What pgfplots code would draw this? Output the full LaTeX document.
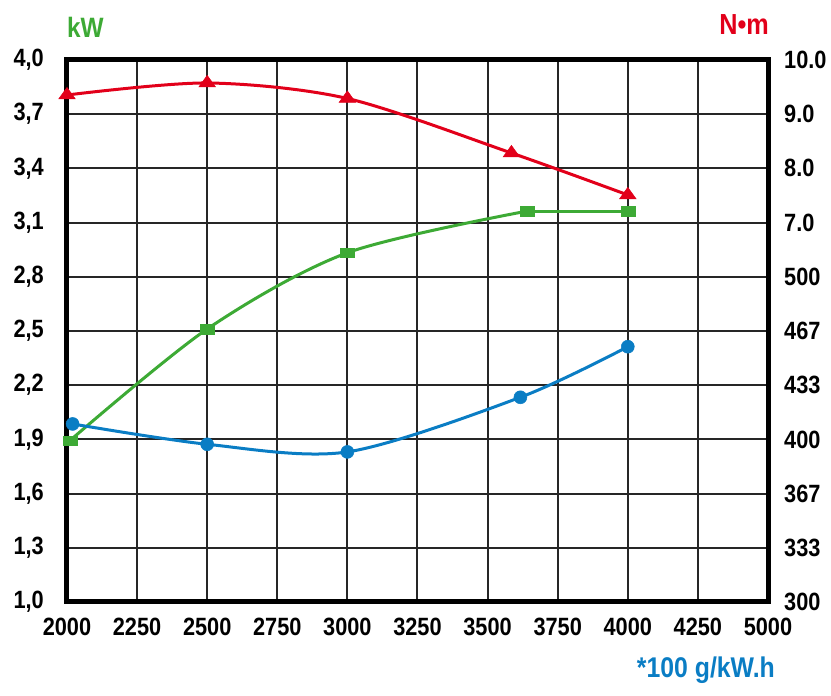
\documentclass[border=0pt]{standalone}
\usepackage{fontspec}
\setmainfont{Liberation Sans}[FakeStretch=0.87]
\usepackage{pgfplots}
\pgfplotsset{compat=1.18}
\definecolor{cgreen}{HTML}{3DAA35}
\definecolor{cred}{HTML}{E2001A}
\definecolor{cblue}{HTML}{0A7DC4}
\begin{document}
\begin{tikzpicture}
\path[use as bounding box] (-67pt,-94pt) rectangle (764pt,602pt);
\pgfplotsset{
  base/.style={width=701pt,height=542pt,scale only axis,
    xmin=2000,xmax=4500,clip=false,
    tick label style={font=\fontsize{25}{26}\selectfont\bfseries,inner sep=0pt},
    major tick length=0pt,
    axis line style={line width=5pt,black}},
}
\begin{axis}[base,
  ymin=1,ymax=4,
  xtick={2000,2250,2500,2750,3000,3250,3500,3750,4000,4250,4500},
  xticklabels={2000,2250,2500,2750,3000,3250,3500,3750,4000,4250,5000},
  ytick={1,1.3,1.6,1.9,2.2,2.5,2.8,3.1,3.4,3.7,4.0},
  yticklabels={{1,0},{1,3},{1,6},{1,9},{2,2},{2,5},{2,8},{3,1},{3,4},{3,7},{4,0}},
  xtick pos=bottom, ytick pos=left,
  grid=major, major grid style={line width=2pt,black!85},
  xticklabel style={yshift=-16pt},
  yticklabel style={xshift=-23pt},
]
\addplot[cgreen,line width=3pt,smooth] coordinates {
  (2010,1.893) (2500,2.511) (3000,2.933) (3642,3.164)};
\addplot[cgreen,line width=3pt,sharp plot] coordinates {
  (3642,3.164) (4000,3.164)};
\addplot[cgreen,only marks,mark=square*,mark size=7pt,
  mark options={line width=0.5pt,yscale=0.68}] coordinates {
  (2010,1.893) (2500,2.511) (3000,2.933) (3642,3.164) (4000,3.164)};
\node[anchor=base west,text=cgreen,font=\fontsize{28}{29}\selectfont\bfseries,inner sep=0pt,yshift=22pt] at (rel axis cs:0,1) {kW};
\node[anchor=base east,text=cred,font=\fontsize{29}{30}\selectfont\bfseries,inner sep=0pt,yshift=25pt,xshift=1pt] at (rel axis cs:1,1) {N•m};
\node[anchor=base east,text=cblue,font=\fontsize{28.5}{29}\selectfont\bfseries,inner sep=0pt,yshift=-76pt,xshift=7pt] at (rel axis cs:1,0) {*100 g/kW.h};
\end{axis}
\begin{axis}[base,
  ymin=0,ymax=10,
  axis x line=none, axis y line*=right,
  ytick={0,1,2,3,4,5,6,7,8,9,10},
  yticklabels={300,333,367,400,433,467,500,7.0,8.0,9.0,10.0},
  yticklabel style={xshift=16pt},
]
\addplot[cred,line width=3pt,smooth,mark=triangle*,mark size=9.5pt,
  mark options={line width=0.5pt,yscale=0.8}] coordinates {
  (2000,9.354) (2500,9.576) (3000,9.29) (3585,8.284) (4000,7.51)};
\end{axis}
\begin{axis}[base,
  ymin=300,ymax=633.333,
  axis lines=none,
]
\addplot[cblue,line width=3pt,smooth,mark=*,mark size=6.5pt,
  mark options={line width=0.5pt}] coordinates {
  (2020,409.5) (2500,397.0) (3000,392.3) (3617,425.9) (4000,457.0)};
\end{axis}
\end{tikzpicture}
\end{document}
